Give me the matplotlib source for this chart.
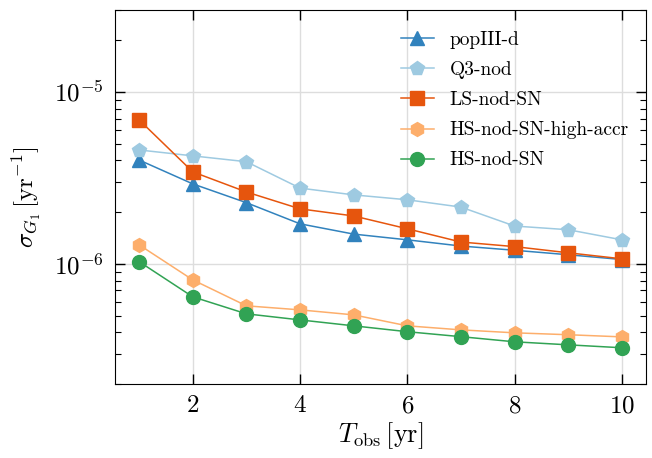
import numpy as np
import matplotlib
matplotlib.use('Agg')
import matplotlib.pyplot as plt

plt.rcParams['font.family'] = ['cmr10']
plt.rcParams['mathtext.fontset'] = 'cm'
plt.rcParams['axes.formatter.use_mathtext'] = True
plt.rcParams['font.size'] = 14

# data
t_obs = [1, 2, 3, 4, 5, 6, 7, 8, 9, 10]
popIII_d = [4.02e-6, 2.92e-6, 2.27e-6, 1.71e-6, 1.49e-6, 1.38e-6, 1.27e-6, 1.20e-6, 1.13e-6, 1.06e-6]
Q3_nod = [4.6e-6, 4.25e-6, 3.93e-6, 2.76e-6, 2.52e-6, 2.36e-6, 2.14e-6, 1.66e-6, 1.58e-6, 1.38e-6]
LS_nod_SN = [6.88e-6, 3.43e-6, 2.62e-6, 2.09e-6, 1.90e-6, 1.60e-6, 1.34e-6, 1.26e-6, 1.16e-6, 1.07e-6]
HS_high_accr = [1.29e-6, 8.07e-7, 5.7e-7, 5.4e-7, 5.05e-7, 4.36e-7, 4.13e-7, 3.97e-7, 3.87e-7, 3.76e-7]
HS_nod_SN = [1.03e-6, 6.43e-7, 5.12e-7, 4.72e-7, 4.36e-7, 4.03e-7, 3.77e-7, 3.52e-7, 3.38e-7, 3.25e-7]

labels = ['popIII-d', 'Q3-nod', 'LS-nod-SN', 'HS-nod-SN-high-accr', 'HS-nod-SN']
series = [popIII_d, Q3_nod, LS_nod_SN, HS_high_accr, HS_nod_SN]
colors = ['#3182bd', '#9ecae1', '#e6550d', '#fdae6b', '#31a354']
markers = ['^', 'p', 's', 'h', 'o']

fig = plt.figure(figsize=(6.52, 4.58), dpi=100)
ax = fig.add_axes([115/652, 1 - 384/458, (646-115)/652, (384-10)/458])

for y, lab, c, m in zip(series, labels, colors, markers):
    ax.plot(t_obs, y, marker=m, color=c, label=lab, lw=1.1, ms=10)

ax.set_yscale('log')
ax.set_ylim(2e-7, 3e-5)
ax.set_xlim(0.55, 10.45)
ax.set_xticks([2, 4, 6, 8, 10])
ax.grid(True, which='major', color='#dddddd', lw=1)
ax.set_axisbelow(True)
ax.tick_params(which='both', direction='in', top=True, right=True, labelsize=18, pad=8)
ax.tick_params(which='major', length=7, width=1)
ax.tick_params(which='minor', length=4, width=0.8)
ax.tick_params(axis='x', which='minor', bottom=False, top=False)
ax.set_xlabel(r'$T_\mathrm{obs}\,[\mathrm{yr}]$', fontsize=19, labelpad=2)
ax.set_ylabel(r'$\sigma_{G_1}\,[\mathrm{yr}^{-1}]$', fontsize=18, labelpad=8)
ax.legend(loc='upper right', frameon=False, fontsize=14, handlelength=1.7,
          labelspacing=0.62, bbox_to_anchor=(1.0, 0.99))

fig.savefig('out.png', dpi=100)
